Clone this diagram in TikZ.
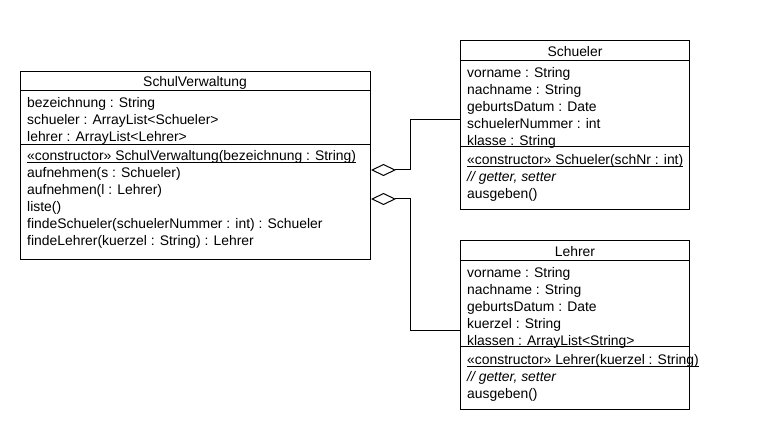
\documentclass[tikz,border=0pt]{standalone}
\usepackage{fontspec}
\setmainfont{Liberation Sans}
\usetikzlibrary{arrows.meta}

\tikzset{
	classbox/.style={draw, line width=1pt, anchor=north west, inner sep=0pt},
	ctitle/.style={anchor=base, inner sep=0pt},
	entry/.style={anchor=base west, inner sep=0pt},
	agg/.style={line width=1pt, -{Diamond[open, length=25pt, width=12pt]}},
}
% unterstreicht einen Eintrag knapp unter der Grundlinie
\newcommand{\ulentry}[1]{\draw[line width=0.8pt] ([yshift=-1.8pt]#1.base west) -- ([yshift=-1.8pt]#1.base east);}

\begin{document}
\begin{tikzpicture}[x=1pt, y=-1pt, font=\fontsize{13.9}{17}\selectfont]
	\useasboundingbox (0,0) rectangle (780,430);
	% SchulVerwaltung
	\node[classbox, minimum width=350pt, minimum height=188pt] (verw) at (20,71) {};
	\draw[line width=1pt] (verw.west |- 0,91) -- (verw.east |- 0,91)
		(verw.west |- 0,145) -- (verw.east |- 0,145);
	\node[ctitle] (verw-name) at (195,86.5) {SchulVerwaltung};
	\foreach \txt [count=\i from 0] in {bezeichnung : String, schueler : ArrayList<Schueler>, lehrer : ArrayList<Lehrer>}
		\node[entry] (verw-a\i) at (27,107.5+17*\i) {\txt};
	\node[entry] (verw-k) at (27,161) {«constructor» SchulVerwaltung(bezeichnung : String)};
	\ulentry{verw-k}
	\foreach \txt [count=\i from 1] in {aufnehmen(s : Schueler), aufnehmen(l : Lehrer), liste(), findeSchueler(schuelerNummer : int) : Schueler, findeLehrer(kuerzel : String) : Lehrer}
		\node[entry] (verw-m\i) at (27,161+17*\i) {\txt};

	% Schueler
	\node[classbox, minimum width=229pt, minimum height=169pt] (schueler) at (460,40) {};
	\draw[line width=1pt] (schueler.west |- 0,61) -- (schueler.east |- 0,61)
		(schueler.west |- 0,147) -- (schueler.east |- 0,147);
	\node[ctitle] (schueler-name) at (575,56.5) {Schueler};
	\foreach \txt [count=\i from 0] in {vorname : String, nachname : String, geburtsDatum : Date, schuelerNummer : int, klasse : String}
		\node[entry] (schueler-a\i) at (467,77.5+17*\i) {\txt};
	\node[entry] (schueler-k) at (467,165) {«constructor» Schueler(schNr : int)};
	\ulentry{schueler-k}
	\node[entry] (schueler-g) at (467,182) {\textit{// getter, setter}};
	\node[entry] (schueler-m) at (467,199) {ausgeben()};

	% Lehrer
	\node[classbox, minimum width=229pt, minimum height=169pt] (lehrer) at (460,240) {};
	\draw[line width=1pt] (lehrer.west |- 0,261) -- (lehrer.east |- 0,261)
		(lehrer.west |- 0,347) -- (lehrer.east |- 0,347);
	\node[ctitle] (lehrer-name) at (575,256.5) {Lehrer};
	\foreach \txt [count=\i from 0] in {vorname : String, nachname : String, geburtsDatum : Date, kuerzel : String, klassen : ArrayList<String>}
		\node[entry] (lehrer-a\i) at (467,277.5+17*\i) {\txt};
	\node[entry] (lehrer-k) at (467,365) {«constructor» Lehrer(kuerzel : String)};
	\ulentry{lehrer-k}
	\node[entry] (lehrer-g) at (467,382) {\textit{// getter, setter}};
	\node[entry] (lehrer-m) at (467,399) {ausgeben()};

	% Aggregationen
	\coordinate (s-port) at (schueler.west |- 0,120);
	\coordinate (l-port) at (lehrer.west |- 0,331);
	\coordinate (v-port1) at (verw.east |- 0,170);
	\coordinate (v-port2) at (verw.east |- 0,199);
	\draw[agg] (s-port) -- (410,120) -- (410,170) -- (v-port1);
	\draw[agg] (l-port) -- (410,331) -- (410,199) -- (v-port2);
\end{tikzpicture}
\end{document}
